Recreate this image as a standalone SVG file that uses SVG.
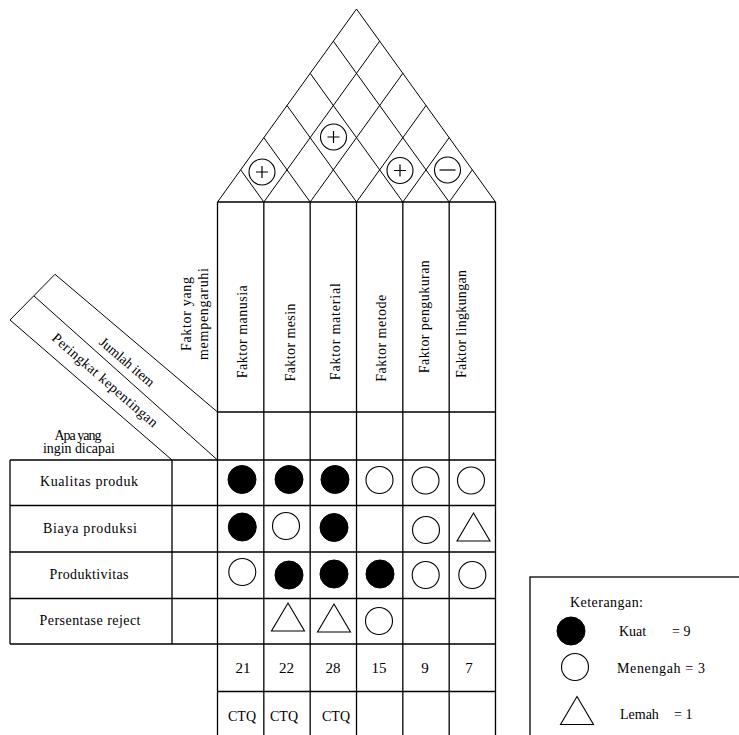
<svg xmlns="http://www.w3.org/2000/svg" width="739" height="735" viewBox="0 0 739 735">
  <style>
    .ln{stroke:#000;stroke-width:1.3;fill:none}
    .thin{stroke:#000;stroke-width:1;fill:none}
    text{font-family:"Liberation Serif","Times New Roman",serif;font-size:14px;fill:#000}
    .c{text-anchor:middle}
    .num{font-size:15px}
  </style>
  <defs>
    <circle id="kuat" r="14" fill="#000" stroke="#000" stroke-width="1"/>
    <circle id="sedang" r="13.5" fill="#fff" stroke="#000" stroke-width="1.1"/>
    <path id="lemah" d="M0,-14 L16.5,14 L-16.5,14 Z" fill="#fff" stroke="#000" stroke-width="1.1"/>
    <g id="plus">
      <circle r="13" fill="#fff" stroke="#000" stroke-width="1.1"/>
      <path d="M-6,0H6M0,-6V6" stroke="#000" stroke-width="1.2"/>
    </g>
    <g id="minus">
      <circle r="13" fill="#fff" stroke="#000" stroke-width="1.1"/>
      <path d="M-8,0H8" stroke="#000" stroke-width="1.2"/>
    </g>
  </defs>
  <rect width="739" height="735" fill="#fff"/>

  <!-- correlation roof -->
  <g id="roof">
    <path class="thin" d="M217.5,202 L356.5,9 L495.5,202"/>
    <path class="thin" d="M263.83,202 L379.67,41.17 M310.17,202 L402.83,73.33 M356.5,202 L426,105.5 M402.83,202 L449.17,137.67 M449.17,202 L472.33,169.83"/>
    <path class="thin" d="M263.83,202 L240.67,169.83 M310.17,202 L263.83,137.67 M356.5,202 L287,105.5 M402.83,202 L310.17,73.33 M449.17,202 L333.33,41.17"/>
    <use href="#plus" x="262" y="172"/>
    <use href="#plus" x="333.5" y="137"/>
    <use href="#plus" x="400" y="170.5"/>
    <use href="#minus" x="447.5" y="170"/>
  </g>

  <!-- grid of the matrix -->
  <g id="grid">
    <path class="ln" d="M217.5,202H495.5 M217.5,412H495.5 M10,460H495.5 M10,505.5H495.5 M10,552H495.5 M10,598.5H495.5 M10,644H495.5 M217.5,691.5H495.5"/>
    <path class="ln" d="M217.5,202V735 M263.83,202V735 M310.17,202V735 M356.5,202V735 M402.83,202V735 M449.17,202V735 M495.5,202V735"/>
    <path class="ln" d="M10,460V644 M172,460V644"/>
    <path class="thin" d="M217.5,412 L55,274.3 L10,320 L172,460 M34,296 L217.5,460"/>
  </g>

  <!-- header labels -->
  <g id="header">
    <text class="c" transform="translate(191,314) rotate(-90)" textLength="74">Faktor yang</text>
    <text class="c" transform="translate(207.5,314) rotate(-90)" textLength="92">mempengaruhi</text>
    <text class="c" transform="translate(246.5,331.7) rotate(-90)" textLength="93">Faktor manusia</text>
    <text class="c" transform="translate(294.5,342.5) rotate(-90)" textLength="78">Faktor mesin</text>
    <text class="c" transform="translate(339.5,331.7) rotate(-90)" textLength="97">Faktor material</text>
    <text class="c" transform="translate(386,338.3) rotate(-90)" textLength="87">Faktor metode</text>
    <text class="c" transform="translate(429,316.7) rotate(-90)" textLength="113">Faktor pengukuran</text>
    <text class="c" transform="translate(466,324) rotate(-90)" textLength="108">Faktor lingkungan</text>
    <text class="c" transform="translate(124,365.5) rotate(40.5)" textLength="68">Jumlah item</text>
    <text class="c" transform="translate(102,383.5) rotate(41)" textLength="135">Peringkat kepentingan</text>
    <text class="c" x="78" y="439.5" textLength="47">Apa yang</text>
    <text class="c" x="79" y="453" textLength="72">ingin dicapai</text>
  </g>

  <!-- row labels -->
  <g id="rows">
    <text class="c" x="89" y="486" textLength="98">Kualitas produk</text>
    <text class="c" x="90" y="532.5" textLength="94">Biaya produksi</text>
    <text class="c" x="89" y="579" textLength="79">Produktivitas</text>
    <text class="c" x="90" y="625" textLength="101">Persentase reject</text>
  </g>

  <!-- relationship symbols -->
  <g id="relations">
    <use href="#kuat" x="242" y="479.5"/>
    <use href="#kuat" x="289" y="479.5"/>
    <use href="#kuat" x="335" y="479.5"/>
    <use href="#sedang" x="379.5" y="480"/>
    <use href="#sedang" x="425.5" y="480.5"/>
    <use href="#sedang" x="471" y="480.5"/>

    <use href="#kuat" x="242.3" y="527"/>
    <use href="#sedang" x="286" y="526"/>
    <use href="#kuat" x="334" y="527.5"/>
    <use href="#sedang" x="426" y="530"/>
    <use href="#lemah" x="473.5" y="527"/>

    <use href="#sedang" x="242.3" y="572"/>
    <use href="#kuat" x="289" y="575"/>
    <use href="#kuat" x="334" y="574"/>
    <use href="#kuat" x="380" y="574"/>
    <use href="#sedang" x="425.7" y="575"/>
    <use href="#sedang" x="472.3" y="575"/>

    <use href="#lemah" x="288" y="617"/>
    <use href="#lemah" x="334" y="618"/>
    <use href="#sedang" x="379" y="621"/>
  </g>

  <!-- totals and CTQ -->
  <g id="totals">
    <text class="c num" x="243" y="673">21</text>
    <text class="c num" x="286.5" y="673">22</text>
    <text class="c num" x="333" y="673">28</text>
    <text class="c num" x="379" y="673">15</text>
    <text class="c num" x="425" y="673">9</text>
    <text class="c num" x="469" y="673">7</text>
    <text class="c" x="242" y="721" textLength="28">CTQ</text>
    <text class="c" x="284" y="721" textLength="28">CTQ</text>
    <text class="c" x="336" y="721" textLength="28">CTQ</text>
  </g>

  <!-- legend -->
  <g id="legend">
    <rect class="ln" x="530" y="577" width="215" height="165"/>
    <text x="570" y="607" textLength="73">Keterangan:</text>
    <use href="#kuat" x="571" y="631"/>
    <text x="619" y="636">Kuat</text>
    <text x="672" y="636">= 9</text>
    <use href="#sedang" x="575" y="667"/>
    <text x="617" y="673" textLength="88">Menengah = 3</text>
    <use href="#lemah" x="577" y="710.5"/>
    <text x="620" y="719">Lemah</text>
    <text x="674" y="719">= 1</text>
  </g>
</svg>
